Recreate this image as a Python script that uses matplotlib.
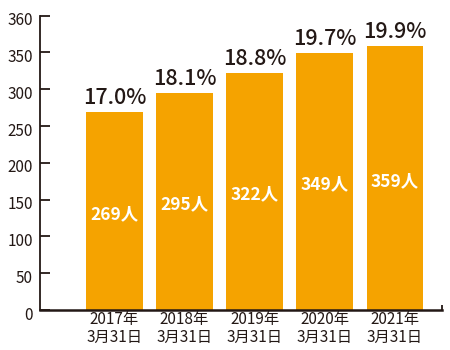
import matplotlib.pyplot as plt
import matplotlib.transforms as mtransforms

plt.rcParams['font.family'] = ['Noto Sans CJK JP', 'DejaVu Sans']

# staff counts at each year end and their share
years = ['2017年\n3月31日', '2018年\n3月31日', '2019年\n3月31日', '2020年\n3月31日', '2021年\n3月31日']
counts = [269, 295, 322, 349, 359]
ratios = ['17.0%', '18.1%', '18.8%', '19.7%', '19.9%']
ytick_pos = [0, 50, 100, 150, 200, 250, 300, 350, 400]
ytick_labels = ['0', '50', '100', '150', '200', '250', '300', '350', '360']

BAR = '#f5a300'
INK = '#231815'

fig = plt.figure(figsize=(4.5, 3.5), dpi=100)
ax = fig.add_axes([40 / 450, 40 / 350, 402 / 450, 294.3 / 350])

x = list(range(len(counts)))
bars = ax.bar(x, counts, width=0.81, color=BAR)

for xi, c, r in zip(x, counts, ratios):
    ax.text(xi, c + 4, r, ha='center', va='bottom', fontsize=15.5,
            color=INK, fontweight='medium')
    ax.text(xi, c / 2 - 4, f'{c}人', ha='center', va='center', fontsize=12.5,
            color='white', fontweight='bold')

ax.set_xlim(-1.06, 4.67)
ax.set_ylim(0, 400)
ax.set_yticks(ytick_pos)
ax.set_yticklabels(ytick_labels, fontsize=11, color=INK)
ax.set_xticks(x)
ax.set_xticklabels(years, fontsize=11, color=INK, linespacing=1.05)

ax.tick_params(axis='y', direction='in', length=7, width=1.3, pad=5, colors=INK)
ax.tick_params(axis='x', length=0, pad=1)

# nudge the y labels a little below their ticks
shift = mtransforms.ScaledTranslation(0, -3 / 100, fig.dpi_scale_trans)
for lbl in ax.get_yticklabels():
    lbl.set_transform(lbl.get_transform() + shift)

ax.spines['top'].set_visible(False)
ax.spines['right'].set_visible(False)
ax.spines['left'].set_linewidth(1.3)
ax.spines['bottom'].set_linewidth(1.8)
ax.spines['left'].set_color(INK)
ax.spines['bottom'].set_color(INK)

# small end cap on the baseline
ax.plot([4.67, 4.67], [0, 7], color=INK, lw=1.3, clip_on=False,
        solid_capstyle='butt')

fig.savefig('out.png', dpi=100)
